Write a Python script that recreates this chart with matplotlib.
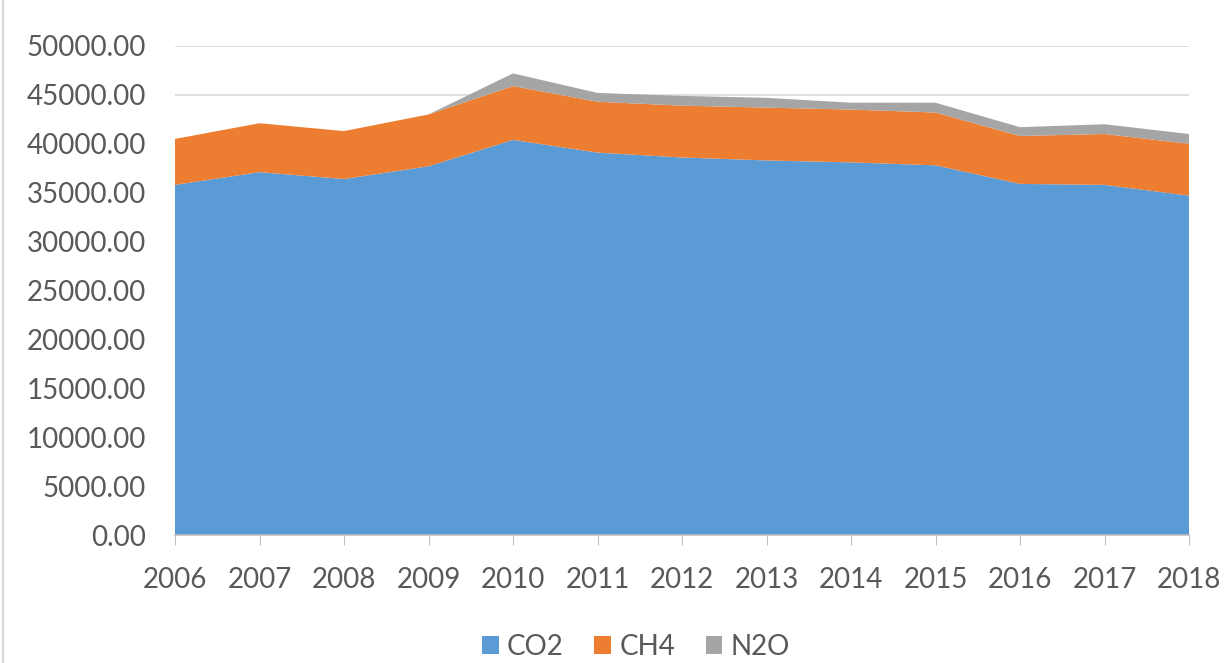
import matplotlib
matplotlib.use("Agg")
import matplotlib.pyplot as plt
from matplotlib.patches import Patch
from matplotlib.lines import Line2D

years = [2006, 2007, 2008, 2009, 2010, 2011, 2012, 2013, 2014, 2015, 2016, 2017, 2018]
co2 = [35800, 37100, 36400, 37700, 40400, 39100, 38600, 38300, 38100, 37800, 35900, 35800, 34700]
ch4 = [4700, 5000, 4900, 5300, 5500, 5200, 5300, 5400, 5400, 5400, 4900, 5200, 5300]
n2o = [0, 0, 0, 0, 1300, 900, 1000, 1000, 700, 1000, 900, 1000, 1000]
series_names = ["CO2", "CH4", "N2O"]
colors = ["#5B9BD5", "#ED7D31", "#A5A5A5"]
yticks = list(range(0, 50001, 5000))

plt.rcParams['font.family'] = ['Lato', 'DejaVu Sans']
fig = plt.figure(figsize=(12.29, 6.63), dpi=100)
ax = fig.add_axes([175/1229, 1-535/663, (1189-175)/1229, (535-46)/663])

ax.stackplot(years, co2, ch4, n2o, colors=colors, labels=series_names, linewidth=0)
ax.set_xlim(years[0], years[-1])
ax.set_ylim(0, 50000)
ax.set_yticks(yticks)
ax.set_yticklabels([f"{v:.2f}" for v in yticks])
ax.set_xticks(years)
ax.set_xticklabels([str(y) for y in years])
ax.grid(axis='y', color='#D9D9D9', linewidth=1.2)
ax.set_axisbelow(True)
for s in ['top', 'right', 'left']:
    ax.spines[s].set_visible(False)
ax.spines['bottom'].set_color('#BFBFBF')
ax.spines['bottom'].set_linewidth(1.2)
ax.tick_params(axis='y', length=0, pad=21, labelsize=20, labelcolor='#595959')
ax.tick_params(axis='x', length=7, color='#BFBFBF', pad=16, labelsize=20, labelcolor='#595959')

handles = [Patch(facecolor=c, edgecolor='none') for c in colors]
fig.legend(handles, series_names, loc='center', bbox_to_anchor=(636/1229, 1-647/663),
           ncol=3, frameon=False, fontsize=20, labelcolor='#595959',
           handlelength=0.6, handleheight=0.6, handletextpad=0.3, columnspacing=1.1,
           borderpad=0, borderaxespad=0)

fig.add_artist(Line2D([3/1229, 3/1229], [0, 1], color='#D9D9D9', linewidth=1.5))

fig.savefig("out.png", dpi=100)
